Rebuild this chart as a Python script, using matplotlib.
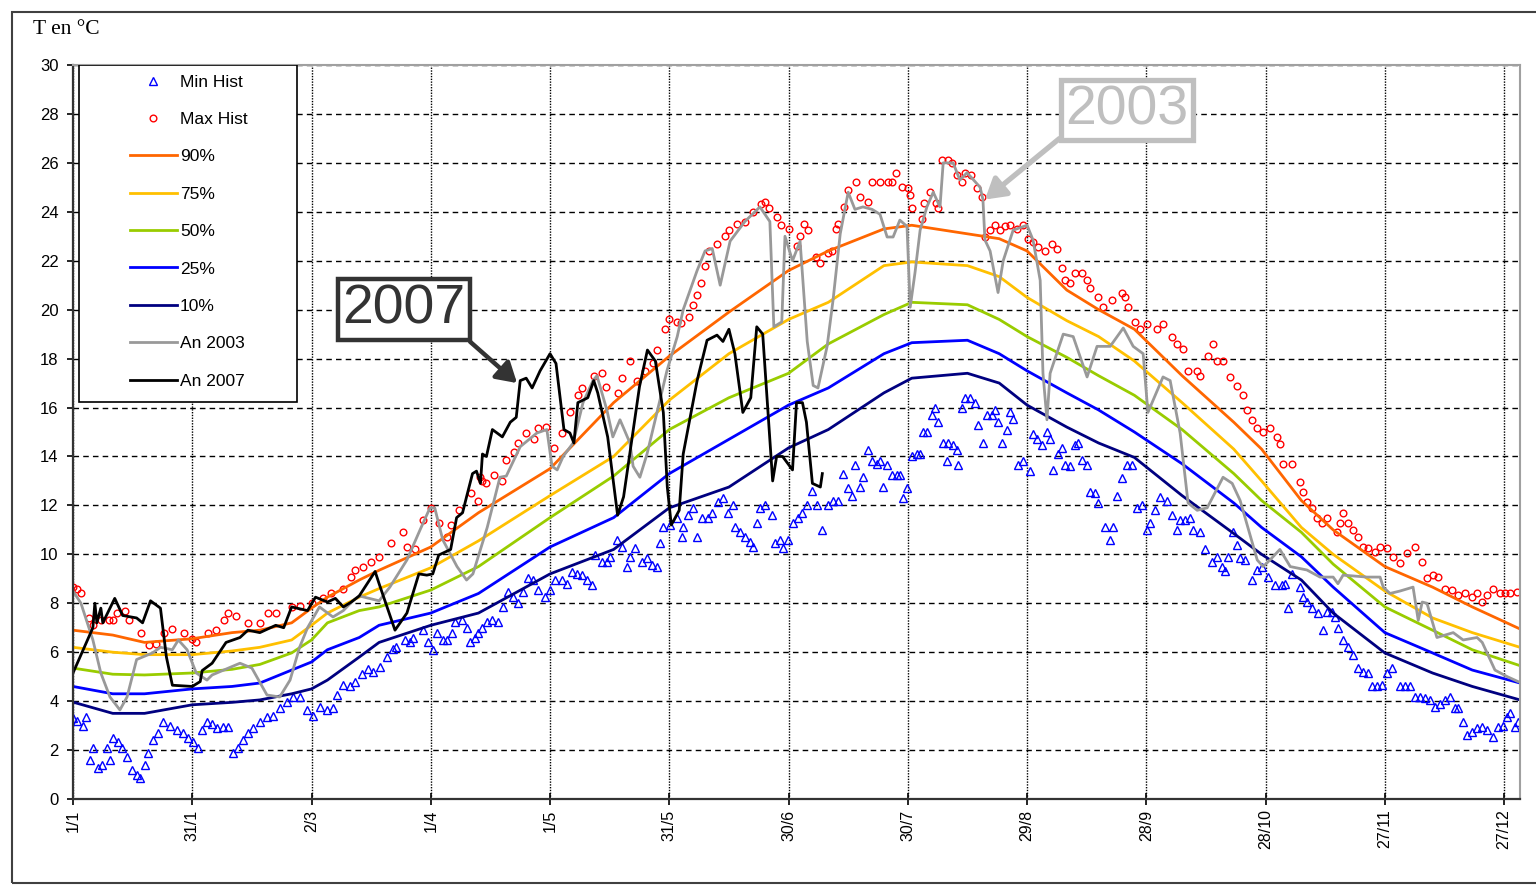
import matplotlib
matplotlib.use('Agg')
import matplotlib.pyplot as plt
from matplotlib.patches import Rectangle

plt.rcParams['font.family'] = ['Liberation Sans', 'DejaVu Sans']

# day of year (0 = 1 Jan) for the tick labels
tick_days = [0, 30, 60, 90, 120, 150, 180, 210, 240, 270, 300, 330, 360]
tick_labels = ['1/1', '31/1', '2/3', '1/4', '1/5', '31/5', '30/6', '30/7',
               '29/8', '28/9', '28/10', '27/11', '27/12']

# percentile curves (read every few days)
pct_days = [0, 10, 18, 30, 40, 47, 55, 60, 64, 72, 77, 90, 102, 120, 136, 150, 165, 180,
            190, 204, 211, 225, 233, 240, 250, 258, 267, 279, 292, 299, 309, 317, 330,
            342, 352, 364]
p90 = [6.9, 6.7, 6.4, 6.55, 6.8, 6.9, 7.2, 7.8, 8.25, 8.95, 9.35, 10.3, 11.7, 13.5, 16.2,
       18.1, 19.9, 21.6, 22.4, 23.3, 23.45, 23.1, 22.9, 22.4, 20.8, 20.0, 19.2, 17.3, 15.4,
       14.3, 12.2, 11.0, 9.5, 8.66, 7.85, 6.95]
p75 = [6.2, 6.0, 5.9, 5.9, 6.05, 6.2, 6.5, 7.1, 7.6, 8.25, 8.6, 9.45, 10.55, 12.4, 14.0,
       16.3, 18.2, 19.6, 20.3, 21.8, 21.95, 21.8, 21.35, 20.5, 19.55, 18.9, 17.9, 16.2, 14.3,
       13.0, 11.1, 10.0, 8.5, 7.4, 6.8, 6.2]
p50 = [5.35, 5.1, 5.07, 5.15, 5.3, 5.5, 5.97, 6.5, 7.2, 7.7, 7.85, 8.54, 9.5, 11.5, 13.2,
       15.1, 16.4, 17.4, 18.6, 19.8, 20.3, 20.2, 19.6, 18.9, 18.05, 17.3, 16.5, 15.1, 13.3,
       12.2, 10.9, 9.6, 7.85, 6.9, 6.1, 5.45]
p25 = [4.6, 4.3, 4.3, 4.5, 4.6, 4.74, 5.27, 5.6, 6.1, 6.6, 7.1, 7.6, 8.4, 10.3, 11.5, 13.3,
       14.7, 16.1, 16.8, 18.2, 18.65, 18.75, 18.2, 17.5, 16.6, 15.9, 15.0, 13.7, 12.1, 11.1,
       9.9, 8.66, 6.8, 5.97, 5.27, 4.74]
p10 = [3.96, 3.5, 3.5, 3.85, 3.95, 4.05, 4.3, 4.5, 4.86, 5.8, 6.4, 7.1, 7.6, 9.2, 10.2, 11.9,
       12.75, 14.35, 15.1, 16.6, 17.2, 17.4, 17.0, 16.1, 15.2, 14.55, 13.96, 12.4, 10.85, 10.0,
       8.95, 7.6, 5.97, 5.15, 4.6, 4.05]

# (day, T) pairs
an2007 = [(0, 5.15), (5, 7.0), (5.5, 8.0), (6, 7.2), (7, 7.8), (7.5, 7.2), (10.5, 8.2),
          (12.5, 7.5), (16, 7.4), (17.5, 7.2), (19.5, 8.1), (22, 7.8), (23.5, 5.8), (25, 4.65),
          (30, 4.6), (32, 4.8), (32.5, 5.25), (35, 5.55), (38.5, 6.4), (42, 6.6), (44, 6.9),
          (47, 6.8), (51, 7.1), (53, 7.0), (55, 7.85), (59, 7.7), (61, 8.25), (64, 8.05),
          (66, 8.2), (68, 7.85), (70, 8.05), (72, 8.3), (76, 9.3), (77, 8.8), (81, 6.9),
          (84, 7.6), (87, 9.2), (89, 9.15), (90.5, 9.2), (92, 9.97), (95, 10.2), (96.5, 11.5),
          (98, 11.7), (99, 12.35), (100.5, 13.3), (101.5, 13.4), (102.5, 12.9), (103, 14.1),
          (104, 14.0), (105.5, 15.1), (108, 14.8), (110, 15.4), (111.5, 15.6), (112.5, 17.1),
          (114, 17.2), (115.5, 16.8), (117.5, 17.5), (120, 18.2), (121.5, 17.8), (123.5, 15.1),
          (125, 14.96), (126, 14.55), (127, 16.2), (129.5, 16.4), (131, 17.1), (132, 16.6),
          (134.5, 14.8), (137, 11.6), (138.5, 12.35), (142.5, 16.85), (144.5, 18.35),
          (146.5, 17.9), (148.5, 15.8), (149.5, 12.75), (150.5, 11.2), (152.5, 11.8),
          (153.5, 14.1), (157, 17.1), (159.5, 18.75), (162, 18.96), (163.5, 18.7), (165, 19.2),
          (166.5, 18.2), (168.5, 15.8), (170.5, 16.4), (172, 19.3), (173.5, 19.0), (176, 13.0),
          (177, 14.0), (178.5, 14.0), (181, 13.45), (182, 16.2), (183.5, 16.2), (184.5, 15.4),
          (186, 12.9), (188, 12.75), (188.5, 13.3)]

an2003 = [(0, 8.5), (2, 8.0), (5, 6.5), (7, 5.15), (9.3, 4.17), (11.8, 3.64), (13.6, 4.17),
          (16, 5.7), (20, 5.97), (22, 6.2), (25, 6.1), (26.5, 6.5), (28.7, 6.1), (31, 5.15),
          (33.7, 4.86), (35, 5.07), (42, 5.55), (45, 5.35), (48.8, 4.25), (52, 4.17),
          (54.6, 4.86), (57, 6.2), (59, 7.0), (62, 7.85), (65.4, 7.44), (68, 7.7), (70.4, 8.1),
          (72, 8.3), (77, 8.1), (79.7, 8.66), (84, 9.77), (87.3, 11.0), (89.8, 11.9), (91, 11.9),
          (93, 10.6), (96.6, 9.5), (99, 8.95), (100.6, 9.2), (104.2, 11.1), (107.4, 13.15),
          (109, 13.2), (112.5, 14.4), (116.7, 14.96), (119.2, 15.1), (120.5, 13.6),
          (121.8, 13.45), (123.3, 14.0), (125.8, 14.55), (128.3, 16.2), (130.8, 17.1),
          (131.8, 17.3), (134.3, 15.9), (135.8, 14.8), (137.6, 15.5), (138.4, 15.2),
          (140.1, 14.55), (140.9, 13.6), (142.6, 13.15), (144.4, 14.1), (146.9, 15.8),
          (149.4, 17.5), (152, 18.9), (153.5, 20.0), (157, 21.6), (159, 22.4), (160.8, 22.5),
          (162.8, 21.0), (165.3, 22.8), (169, 23.6), (172.8, 24.2), (175.3, 23.6),
          (176.3, 19.3), (178.3, 19.5), (179.1, 23.0), (181, 22.0), (182.9, 22.8),
          (184.7, 18.7), (186.2, 16.9), (187.4, 16.8), (189.7, 18.5), (191.2, 20.4),
          (193, 23.1), (195, 24.8), (196.7, 24.1), (198.7, 24.2), (201, 24.1), (203, 23.9),
          (204.8, 22.97), (206.3, 22.97), (208, 23.66), (209.8, 23.4), (210.6, 20.1),
          (211.8, 21.5), (213.1, 23.25), (214.8, 24.2), (216.4, 24.8), (218.1, 24.2),
          (218.9, 26.0), (221.4, 26.0), (223.1, 25.3), (224.9, 25.6), (228.2, 25.0),
          (228.9, 24.5), (229.4, 22.85), (230.7, 22.4), (232.7, 20.7), (234, 22.0),
          (236.5, 23.25), (240, 23.45), (241.5, 22.85), (243.3, 21.2), (244, 17.4), (245, 15.5),
          (245.8, 17.4), (249.1, 19.0), (251.6, 18.9), (255.1, 17.25), (257.6, 18.5),
          (260.9, 18.5), (264.2, 19.25), (266.7, 18.5), (269.2, 18.2), (270.4, 15.8),
          (274.2, 17.25), (276, 17.1), (278.5, 14.96), (280.5, 12.1), (282.8, 11.8),
          (285.3, 11.9), (289.3, 13.15), (291.6, 12.9), (293.6, 12.2), (297.9, 9.77),
          (299.4, 9.5), (301.1, 9.77), (303.6, 10.2), (306.2, 9.5), (310.4, 9.36),
          (313.7, 9.07), (317, 9.07), (318.2, 8.8), (319.5, 9.15), (325.5, 9.07), (328.8, 9.07),
          (329.6, 8.66), (331.3, 8.4), (333.8, 8.5), (337.1, 8.66), (338.4, 7.3), (339.4, 8.05),
          (340.6, 8.0), (343.1, 6.6), (347.2, 6.8), (349.7, 6.5), (353.2, 6.6), (354.5, 6.4),
          (357.7, 5.27), (360.8, 5.0), (363.5, 4.8)]

max_hist = [(0, 8.66), (1, 8.6), (2, 8.4), (4, 7.4), (5, 7.1), (7, 7.3), (9, 7.3), (10, 7.3),
            (11, 7.6), (13, 7.7), (14, 7.3), (17, 6.8), (19, 6.3), (21, 6.35), (23, 6.8),
            (25, 6.95), (28, 6.8), (30, 6.55), (31, 6.4), (34, 6.8), (36, 6.9), (38, 7.3),
            (39, 7.6), (41, 7.5), (44, 7.2), (47, 7.2), (49, 7.6), (51, 7.6), (55, 7.85),
            (57, 7.9), (60, 8.0), (63, 8.2), (65, 8.4), (68, 8.6), (70, 9.07), (71, 9.36),
            (73, 9.5), (75, 9.7), (77, 9.9), (80, 10.45), (83, 10.9), (84, 10.3), (86, 10.2),
            (88, 11.4), (90, 11.9), (92, 11.3), (94, 10.7), (95, 11.2), (97, 11.8), (100, 12.5),
            (102, 12.2), (102.5, 13.15), (103, 13.0), (104, 12.9), (106, 13.25), (108, 13.0),
            (109, 13.85), (111, 14.2), (112, 14.55), (114, 14.96), (116, 14.7), (117, 15.15),
            (119, 15.2), (121, 14.35), (123, 14.96), (125, 15.8), (127, 16.5), (128, 16.8),
            (131, 17.3), (133, 17.4), (134, 16.85), (137, 16.6), (138, 17.2), (140, 17.9),
            (142, 17.1), (144, 17.5), (146, 17.8), (147, 18.35), (149, 19.2), (150, 19.6),
            (152, 19.5), (153, 19.45), (155, 19.7), (156, 20.2), (157, 20.6), (158, 21.1),
            (159, 21.8), (160, 22.4), (162, 22.7), (164, 23.0), (165, 23.25), (167, 23.5),
            (169, 23.6), (171, 24.0), (173, 24.3), (174, 24.4), (175, 24.15), (177, 23.8),
            (178, 23.45), (180, 23.3), (182, 22.6), (183, 23.0), (184, 23.5), (185, 23.25),
            (187, 22.15), (188, 21.9), (190, 22.3), (191, 22.4), (192, 23.3), (192.5, 23.5),
            (194, 24.2), (195, 24.9), (197, 25.2), (198, 24.6), (200, 24.4), (201, 25.2),
            (203, 25.2), (205, 25.2), (206, 25.2), (207, 25.6), (208.5, 25.0), (210, 24.97),
            (210.5, 24.7), (211, 24.15), (213.5, 23.7), (214, 24.35), (215.5, 24.8),
            (217, 24.35), (217.5, 24.15), (218.6, 26.1), (220, 26.1), (221, 26.0),
            (222.4, 25.5), (223.6, 25.2), (224.4, 25.6), (226, 25.5), (227.4, 24.97),
            (228.7, 24.6), (229.4, 22.97), (230.7, 23.25), (232, 23.45), (233.2, 23.25),
            (234.5, 23.4), (235.7, 23.45), (237.5, 23.3), (239, 23.45), (240.3, 22.9),
            (241.5, 22.75), (242.8, 22.55), (244.5, 22.4), (246.3, 22.7), (247.5, 22.5),
            (248.8, 21.7), (249.6, 21.2), (250.8, 21.1), (252, 21.5), (253.8, 21.5), (255, 21.2),
            (255.8, 20.9), (257.9, 20.5), (259.1, 20.1), (261.4, 20.4), (263.9, 20.7),
            (264.7, 20.5), (265.4, 20.1), (267.2, 19.5), (268.4, 19.2), (270.2, 19.4),
            (272.7, 19.2), (274.2, 19.4), (276.5, 18.9), (277.7, 18.6), (279.2, 18.4),
            (280.5, 17.5), (282.8, 17.5), (283.5, 17.3), (285.5, 18.1), (286.8, 18.6),
            (287.8, 17.9), (289.3, 17.9), (291, 17.25), (292.8, 16.9), (294.3, 16.5),
            (295.3, 15.9), (296.6, 15.5), (297.9, 15.15), (299.4, 15.0), (301.1, 15.15),
            (302.9, 14.8), (303.6, 14.5), (304.4, 13.7), (306.7, 13.7), (308.7, 12.95),
            (309.4, 12.55), (310.4, 12.15), (311.7, 11.9), (312.9, 11.5), (314.2, 11.3),
            (315.5, 11.5), (318, 10.9), (318.7, 11.3), (319.5, 11.7), (320.8, 11.3), (322, 11.0),
            (323.3, 10.7), (324.5, 10.3), (325.8, 10.25), (327.5, 10.1), (328.8, 10.3),
            (330.6, 10.25), (332, 9.9), (333.8, 9.65), (335.5, 10.05), (337.6, 10.3),
            (339.4, 9.7), (340.6, 9.03), (342.1, 9.15), (343.4, 9.07), (345.2, 8.6),
            (346.9, 8.54), (348.4, 8.34), (350.2, 8.4), (351.9, 8.25), (353.2, 8.4),
            (354.5, 8.05), (355.7, 8.34), (357.2, 8.6), (359, 8.4), (360.3, 8.4), (361.5, 8.4),
            (363.3, 8.46)]

min_hist = [(0, 3.3), (1, 3.2), (2.5, 3.0), (3.3, 3.35), (4.3, 1.6), (5, 2.1), (6.3, 1.27),
            (7.3, 1.4), (8.6, 2.1), (9.3, 1.6), (10, 2.5), (11.3, 2.35), (12.3, 2.1), (13.6, 1.7),
            (14.8, 1.2), (16.1, 1.0), (16.9, 0.85), (18.1, 1.4), (18.9, 1.9), (20.1, 2.4),
            (21.4, 2.7), (22.6, 3.15), (24.4, 3.0), (26.2, 2.8), (27.7, 2.7), (28.9, 2.5),
            (30.2, 2.35), (31.4, 2.1), (32.5, 2.8), (33.7, 3.15), (35, 3.05), (36.2, 2.9),
            (37.7, 2.95), (39, 2.95), (40.3, 1.9), (41.5, 2.1), (42.8, 2.4), (44, 2.7),
            (45.3, 2.9), (47, 3.15), (48.8, 3.35), (50.3, 3.4), (52.1, 3.7), (53.8, 3.96),
            (55.3, 4.17), (57.1, 4.17), (58.9, 3.64), (60.4, 3.4), (62.1, 3.76), (63.9, 3.64),
            (65.4, 3.7), (66.4, 4.25), (67.9, 4.66), (69.7, 4.6), (70.9, 4.8), (72.7, 5.1),
            (74.2, 5.3), (75.5, 5.2), (77.2, 5.4), (79, 5.8), (80.5, 6.15), (81.3, 6.2),
            (83.5, 6.5), (84.8, 6.4), (85.5, 6.6), (88, 6.9), (89.3, 6.4), (90.6, 6.1),
            (91.6, 6.8), (93.1, 6.5), (94.1, 6.5), (95.3, 6.8), (96.1, 7.25), (97.9, 7.3),
            (99.1, 7.0), (99.9, 6.4), (101.1, 6.6), (101.9, 6.8), (102.9, 7.0), (104.2, 7.25),
            (105.4, 7.3), (106.9, 7.25), (108.2, 7.85), (109.4, 8.45), (110.7, 8.25), (112, 8.0),
            (113.2, 8.45), (114.5, 9.03), (115.7, 8.95), (117, 8.54), (118.7, 8.25), (120, 8.54),
            (121.3, 8.95), (123, 8.95), (124.3, 8.8), (125.5, 9.27), (126.8, 9.2), (128, 9.15),
            (129.3, 8.95), (130.6, 8.75), (131.3, 9.97), (133.1, 9.7), (134.3, 9.7), (135.1, 9.9),
            (136.9, 10.6), (138.1, 10.3), (139.4, 9.5), (140.1, 9.9), (141.4, 10.25),
            (143.1, 9.7), (144.4, 9.85), (145.7, 9.56), (146.9, 9.5), (147.7, 10.45),
            (148.4, 11.1), (150.2, 11.2), (152, 11.5), (153.2, 10.7), (153.5, 11.1),
            (154.7, 11.6), (156, 11.9), (157, 10.7), (158.2, 11.5), (159.7, 11.5), (160.8, 11.7),
            (162.3, 12.15), (163.5, 12.3), (164.8, 11.7), (166, 12.0), (166.5, 11.1),
            (167.8, 10.9), (169.1, 10.7), (170.3, 10.5), (171.1, 10.3), (172.1, 11.3),
            (172.8, 11.9), (174.1, 12.0), (175.8, 11.6), (176.6, 10.45), (177.9, 10.6),
            (178.6, 10.25), (179.9, 10.6), (181.1, 11.3), (182.4, 11.5), (183.4, 11.7),
            (184.7, 12.0), (185.9, 12.6), (187.2, 12.0), (188.4, 11.0), (189.9, 12.0),
            (191.2, 12.2), (192.5, 12.2), (193.7, 13.3), (195, 12.7), (196, 12.4), (196.7, 13.65),
            (198, 12.75), (198.7, 13.15), (200, 14.26), (201, 13.8), (202.3, 13.7), (203, 13.8),
            (203.8, 12.75), (204.8, 13.65), (206, 13.25), (207.3, 13.25), (208, 13.25),
            (208.8, 12.3), (209.8, 12.7), (211.1, 14.0), (212.3, 14.1), (213.1, 14.1),
            (213.8, 15.0), (214.8, 15.0), (216.1, 15.7), (216.9, 16.0), (217.6, 15.4),
            (218.9, 14.55), (219.9, 13.8), (220.1, 14.55), (221.4, 14.45), (222.4, 14.26),
            (222.6, 13.65), (223.6, 16.0), (224.4, 16.4), (225.7, 16.4), (226.9, 16.2),
            (227.7, 15.3), (228.9, 14.55), (229.9, 15.7), (231.2, 15.7), (232, 15.9),
            (232.7, 15.4), (233.7, 14.55), (235, 15.1), (235.7, 15.8), (236.5, 15.55),
            (237.7, 13.65), (239, 13.8), (240.8, 13.4), (241.5, 14.9), (242.5, 14.7),
            (243.8, 14.45), (245, 15.0), (245.8, 14.7), (246.5, 13.45), (247.8, 14.1),
            (248.8, 14.35), (249.6, 13.65), (250.8, 13.6), (252, 14.45), (252.8, 14.55),
            (253.8, 13.85), (255.1, 13.65), (255.8, 12.55), (257.1, 12.5), (257.9, 12.1),
            (259.6, 11.1), (260.9, 10.6), (261.6, 11.1), (262.6, 12.4), (263.9, 13.1),
            (265.2, 13.65), (266.4, 13.65), (267.7, 11.9), (268.9, 12.0), (270.2, 11.0),
            (270.9, 11.3), (272.2, 11.8), (273.5, 12.35), (275.2, 12.2), (276.5, 11.6),
            (277.7, 11.0), (278.5, 11.4), (279.7, 11.4), (281, 11.5), (281.8, 11.0),
            (283.5, 10.9), (284.8, 10.2), (286.5, 9.7), (287.8, 9.9), (289.1, 9.5), (289.8, 9.3),
            (290.6, 9.9), (291.8, 10.9), (292.8, 10.4), (293.6, 9.85), (294.8, 9.77),
            (296.6, 8.95), (297.9, 9.36), (299.1, 9.5), (300.6, 9.07), (302.4, 8.75),
            (304.2, 8.75), (304.9, 8.8), (305.7, 7.8), (306.7, 9.2), (308.7, 8.66), (309.4, 8.25),
            (310.4, 8.05), (311.7, 7.8), (313.2, 7.6), (314.5, 6.9), (315.5, 7.65), (316.7, 7.65),
            (317.5, 7.44), (318.2, 7.0), (319.5, 6.5), (320.8, 6.2), (322, 5.9), (323.3, 5.35),
            (324.5, 5.2), (325.8, 5.15), (326.8, 4.6), (328, 4.6), (329.3, 4.66), (330.6, 5.15),
            (331.8, 5.35), (333.8, 4.6), (335, 4.6), (336.4, 4.6), (337.6, 4.17), (338.9, 4.17),
            (340.1, 4.13), (341.4, 4.05), (342.6, 3.76), (343.9, 3.9), (345.2, 4.05),
            (346.4, 4.17), (347.7, 3.7), (348.4, 3.7), (349.7, 3.15), (350.7, 2.6), (351.9, 2.75),
            (353.2, 2.9), (354.5, 2.95), (355.7, 2.8), (357.2, 2.55), (358.5, 2.95), (359.7, 3.0),
            (360.8, 3.35), (361.5, 3.5), (362.8, 2.95), (363.5, 3.15)]

fig = plt.figure(figsize=(15.36, 8.91), dpi=100)
ax = fig.add_axes([73 / 1536, 92 / 891, 1447 / 1536, 734 / 891])
ax.set_axisbelow(True)

d, t = zip(*min_hist)
ax.plot(d, t, linestyle='none', marker='^', ms=5.5, mfc='none', mec='#0000ff', mew=1.0,
        label='Min Hist')
d, t = zip(*max_hist)
ax.plot(d, t, linestyle='none', marker='o', ms=4.8, mfc='none', mec='#ff0000', mew=1.0,
        label='Max Hist')

for vals, color, name in [(p90, '#ff6600', '90%'), (p75, '#ffc000', '75%'),
                          (p50, '#99cc00', '50%'), (p25, '#0000ff', '25%'),
                          (p10, '#000080', '10%')]:
    ax.plot(pct_days, vals, color=color, lw=2, label=name)

d, t = zip(*an2003)
ax.plot(d, t, color='#999999', lw=2, label='An 2003')
d, t = zip(*an2007)
ax.plot(d, t, color='black', lw=2, label='An 2007')

ax.set_xlim(0, 364)
ax.set_ylim(0, 30)
ax.set_xticks(tick_days)
ax.set_xticklabels(tick_labels, rotation=90)
ax.set_yticks(range(0, 31, 2))
ax.tick_params(axis='x', direction='inout', length=9, width=1.2, labelsize=11.5, pad=3)
ax.tick_params(axis='y', direction='out', length=4.5, width=1.2, labelsize=12, pad=6)

ax.yaxis.grid(True, linestyle=(0, (4, 3)), color='black', lw=1.0)
ax.xaxis.grid(True, linestyle=(0, (1, 1)), color='black', lw=1.0)

for side in ['left', 'bottom']:
    ax.spines[side].set_color('#333333')
    ax.spines[side].set_linewidth(1.6)
for side in ['top', 'right']:
    ax.spines[side].set_color('#a0a0a0')
    ax.spines[side].set_linewidth(1.5)

# legend box
ax.add_patch(Rectangle((0.0041, 0.5409), 0.1507, 0.4591, transform=ax.transAxes,
                       fc='white', ec='black', lw=1.2, zorder=10))
leg = ax.legend(loc='upper left', bbox_to_anchor=(0.0394, 0.987), frameon=False,
                borderaxespad=0, borderpad=0, handlelength=2.7, handletextpad=0.17,
                labelspacing=1.28, fontsize=12.5, numpoints=1)
leg.set_zorder(11)

ax.annotate('2007', xy=(111.7, 17.0), xytext=(83.3, 20.0), ha='center', va='center',
            fontsize=40, color='#333333', zorder=12,
            bbox=dict(boxstyle='square,pad=0.08', fc='white', ec='#333333', lw=3.2),
            arrowprops=dict(arrowstyle='-|>,head_length=0.3,head_width=0.18', color='#333333',
                            lw=3.2, shrinkA=0, shrinkB=0, relpos=(0.98, 0.0)))
ax.annotate('2003', xy=(229.4, 24.5), xytext=(265.2, 28.16), ha='center', va='center',
            fontsize=40, color='#bfbfbf', zorder=12,
            bbox=dict(boxstyle='square,pad=0.08', fc='white', ec='#bfbfbf', lw=3.8),
            arrowprops=dict(arrowstyle='-|>,head_length=0.3,head_width=0.18', color='#bfbfbf',
                            lw=3.8, shrinkA=0, shrinkB=0, relpos=(0.0, 0.05)))

fig.text(33 / 1536, 1 - 30 / 891, 'T en °C', ha='left', va='center', fontsize=15.5,
         family=['Liberation Serif', 'DejaVu Serif'])

# outer frame
fig.add_artist(Rectangle((12 / 1536, 8 / 891), 1.0, 871 / 891, transform=fig.transFigure,
                         fill=False, ec='#404040', lw=1.5))

fig.savefig('out.png', dpi=100)
